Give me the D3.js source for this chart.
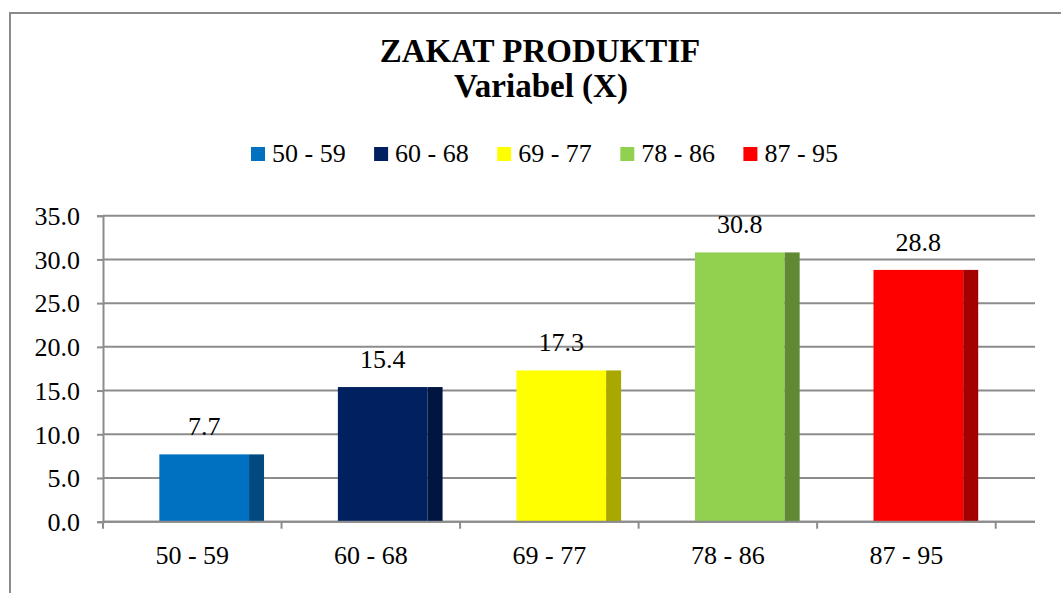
<!DOCTYPE html>
<html>
<head>
<meta charset="utf-8">
<script src="https://cdn.jsdelivr.net/npm/d3@7"></script>
<style>
  html, body { margin: 0; padding: 0; background: #fff; }
  svg { display: block; }
  text { font-family: "Liberation Serif", "Times New Roman", serif; fill: #000; }
</style>
</head>
<body>
<svg id="chart" width="1061" height="593"></svg>
<script>
// ---- data ----
const categories = ["50 - 59", "60 - 68", "69 - 77", "78 - 86", "87 - 95"];
const values = [7.7, 15.4, 17.3, 30.8, 28.8];
const frontColors = ["#0070C0", "#002060", "#FFFF00", "#92D050", "#FF0000"];
const sideColors = ["#004A7F", "#001540", "#A8A800", "#5F8A33", "#A50000"];
const yTicks = [0, 5, 10, 15, 20, 25, 30, 35];
const titleLines = ["ZAKAT PRODUKTIF", "Variabel (X)"];

// ---- layout ----
const W = 1061, H = 593;
const plot = { left: 103, right: 995.7, wallRight: 1035, top: 215.7, bottom: 521.7 };

const svg = d3.select("#chart");

// outer frame (cut off at right and bottom)
svg.append("rect")
  .attr("x", 10).attr("y", 13)
  .attr("width", 1100).attr("height", 700)
  .attr("fill", "#fff")
  .attr("stroke", "#8a8a8a").attr("stroke-width", 2);

// title
svg.append("text").attr("x", 540).attr("y", 61.5)
  .attr("text-anchor", "middle").attr("font-weight", "bold").attr("font-size", 33)
  .text(titleLines[0]);
svg.append("text").attr("x", 541).attr("y", 97)
  .attr("text-anchor", "middle").attr("font-weight", "bold").attr("font-size", 33)
  .text(titleLines[1]);

// scales
const x = d3.scaleBand().domain(categories).range([plot.left, plot.right]).padding(0);
const y = d3.scaleLinear().domain([0, 35]).range([plot.bottom, plot.top]);
const bw = x.bandwidth();

// legend
const legend = svg.append("g");
const legendStep = 123.1;
categories.forEach((c, i) => {
  const lx = 251 + i * legendStep;
  legend.append("rect").attr("x", lx).attr("y", 147).attr("width", 14).attr("height", 14)
    .attr("fill", frontColors[i]);
  legend.append("text").attr("x", lx + 21).attr("y", 161.5).attr("font-size", 26).text(c);
});

// gridlines
svg.append("g").selectAll("line").data(yTicks).join("line")
  .attr("x1", plot.left).attr("x2", plot.wallRight)
  .attr("y1", d => y(d)).attr("y2", d => y(d))
  .attr("stroke", "#8c8c8c").attr("stroke-width", 2);

// y axis
const yAxis = svg.append("g").attr("transform", `translate(${plot.left},0)`)
  .call(d3.axisLeft(y).tickValues(yTicks).tickFormat(d3.format(".1f")).tickSize(6).tickPadding(17));
yAxis.select(".domain").attr("stroke", "#8c8c8c").attr("stroke-width", 2);
yAxis.selectAll(".tick line").attr("stroke", "#8c8c8c").attr("stroke-width", 2);
yAxis.selectAll(".tick text").attr("font-size", 26).attr("dy", "0.34em")
  .style("font-family", '"Liberation Serif", serif').attr("fill", "#000");

// bars
const bars = svg.append("g");
categories.forEach((c, i) => {
  const x0 = x(c) + bw * 0.3155;
  const fw = bw * 0.5025;
  const sw = bw * 0.084;
  const yt = y(values[i]);
  bars.append("rect").attr("x", x0).attr("y", yt).attr("width", fw).attr("height", y(0) - yt)
    .attr("fill", frontColors[i]);
  bars.append("rect").attr("x", x0 + fw).attr("y", yt).attr("width", sw).attr("height", y(0) - yt)
    .attr("fill", sideColors[i]);
  bars.append("text").attr("x", x0 + fw / 2).attr("y", yt - 19)
    .attr("text-anchor", "middle").attr("font-size", 26)
    .text(values[i].toFixed(1));
});

// x axis
svg.append("line").attr("x1", plot.left).attr("x2", plot.wallRight)
  .attr("y1", y(0)).attr("y2", y(0))
  .attr("stroke", "#8c8c8c").attr("stroke-width", 2);
const boundaries = categories.map(c => x(c)).concat([x(categories[categories.length - 1]) + bw]);
svg.append("g").selectAll("line").data(boundaries).join("line")
  .attr("x1", d => d).attr("x2", d => d)
  .attr("y1", y(0)).attr("y2", y(0) + 7)
  .attr("stroke", "#8c8c8c").attr("stroke-width", 2);
svg.append("g").selectAll("text").data(categories).join("text")
  .attr("x", d => x(d) + bw / 2).attr("y", 563.5)
  .attr("text-anchor", "middle").attr("font-size", 26)
  .text(d => d);
</script>
</body>
</html>
